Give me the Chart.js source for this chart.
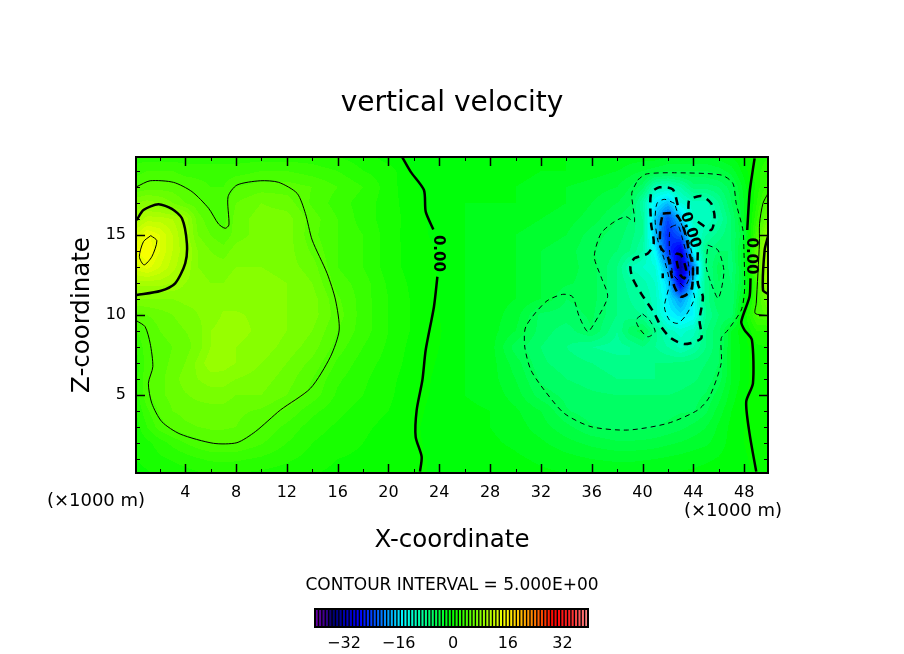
<!DOCTYPE html>
<html>
<head>
<meta charset="utf-8">
<title>vertical velocity</title>
<script src="https://cdn.jsdelivr.net/npm/chart.js@4"></script>
<style>
    html, body { margin: 0; padding: 0; background: #fff; }
    #page { position: relative; width: 904px; height: 654px; overflow: hidden; }
    canvas { position: absolute; left: 0; }
</style>
</head>
<body>
<div id="page">
    <canvas id="field" width="904" height="654" style="top:0"></canvas>
    <canvas id="colorbar" width="904" height="54" style="top:600px"></canvas>
</div>
<script>
// Tick labels
const xTicks = [4, 8, 12, 16, 20, 24, 28, 32, 36, 40, 44, 48];
const zTicks = [5, 10, 15];
const colorbarTicks = [-32, -16, 0, 16, 32];

// Grid of the field (x and z in units of 1000 m)
const xGrid = [0.125, 1, 2, 3, 4, 5, 6, 7, 8,
    10, 12, 14, 16, 18, 20, 22, 24,
    26, 28, 30, 32, 34, 36, 38,
    39, 40, 41, 42, 43, 44, 45, 46, 47, 48, 49, 49.875];
const zGrid = [19.875, 19, 18, 17, 16, 15, 14, 13, 12, 11, 10, 9, 8, 7, 6, 5, 4, 3, 2, 1, 0.125];

// Vertical velocity, one row per zGrid entry
const wField = [
    [2.5, 2.5, 2.5, 2.5, 2.5, 2.5, 2.5, 2.5, 2.5, 2.5, 2.5, 2.5, 2, 1.5, .5, -.3, -.4, -.5, -.5, -.5, -.5, -1, -1, -1, -1.5, -1.5, -1.5, -2, -2, -2, -2, -1.5, -1, 0, 1, 2],
    [3.5, 4, 4, 4, 3.5, 3.5, 3.5, 3.5, 3.5, 4, 4, 3.5, 3, 2, 1.5, -.1, -.3, -.5, -.5, -.5, -1, -1, -1.5, -2, -2.5, -3, -3.5, -4, -4, -4, -4, -3.5, -2.5, -.5, 1.5, 3],
    [5, 5.5, 5.5, 5.5, 5, 4.5, 4, 4, 5, 5.5, 5.5, 5, 4, 3, 1.5, .1, -.5, -1, -1, -1, -1.5, -2, -2.5, -3, -4, -5.5, -10, -10.5, -9, -6.5, -6.5, -6, -4.5, -1.5, 1.5, 3.5],
    [8, 8.5, 8, 7, 6, 5.3, 4.5, 4.5, 6, 7, 6.5, 4.8, 3.5, 2.5, 1.5, .3, -.5, -1, -1, -1, -1.5, -2, -3, -4, -4.8, -9, -14.5, -17, -12, -10.5, -10.5, -8, -5, -2, 2, 5.5],
    [10, 11.5, 11.5, 11, 9.8, 6.5, 5.3, 4.5, 6.5, 7.5, 7.5, 5.5, 4, 2.5, 1.5, .5, -.5, -1, -1.5, -1.5, -2, -2.5, -3.5, -5, -6, -8, -17, -23, -17, -10.5, -11, -9, -6, -2, 3, 7],
    [13, 15.2, 14, 12, 9.8, 7, 6, 5.2, 6.5, 7.5, 7.5, 5.3, 4, 3, 1.5, .4, -.3, -1, -1.5, -2, -2.5, -3, -4.5, -5.5, -6.5, -8, -17, -25, -22, -12, -9, -7.5, -6, -3, 4.5, 9.5],
    [15, 16, 14, 12, 10.3, 8, 7, 6.5, 7.5, 8, 7.5, 5.8, 4, 3, 1.5, .5, -.1, -1, -1.5, -2, -3, -3.5, -4.8, -6, -7, -9, -14, -24, -29, -14, -7, -6, -6, -2, 6, 11],
    [13.5, 14.5, 13, 11.5, 9.8, 8, 7.5, 7.5, 8, 8, 7.5, 6.5, 4, 3, 1.5, .5, -.1, -1, -1.5, -2, -3, -3.5, -4.5, -7, -10, -11, -12, -19, -32, -20, -7.5, -4.5, -6.5, -2, 6, 11],
    [10.5, 10.5, 10.5, 10, 9, 8.5, 8, 8, 8.5, 8.5, 8, 7, 4.5, 3.5, 1.8, .7, 0, -1, -1.5, -2, -3, -3.8, -4.5, -7, -8.5, -9.5, -11, -16, -29, -16, -7.5, -5, -6, -2.5, 4, 11],
    [8, 8, 8, 8, 8.3, 8.3, 8.5, 8.7, 8.7, 8.6, 8, 7.5, 5.2, 3.5, 2, .8, 0, -1, -1.5, -2, -3, -5, -4.5, -7, -8, -9, -10.5, -15, -19, -14, -7.5, -5, -6, -1, 3.5, 7.5],
    [5.5, 6, 6.5, 7, 7.5, 8, 8.5, 9.1, 9.1, 8.8, 8, 7.5, 5.5, 3.5, 2, .8, 0, -1, -1.5, -2.5, -5.3, -5.5, -4.8, -7, -7.5, -8, -10.5, -14, -15.5, -14, -8, -6, -5.5, .3, 4.5, 5],
    [4, 5, 6, 6.5, 7, 7.5, 9, 9.4, 9.3, 8.8, 8, 7, 5, 3.5, 2, .8, .1, -1, -1.5, -3, -5.5, -6.5, -5, -8, -5.5, -4.5, -7.5, -10.5, -11.5, -10.5, -7, -5.2, -2, -.1, 2, 2],
    [3, 4.7, 5.5, 6, 6.5, 7.5, 9, 9.3, 9, 8.6, 7.6, 6.5, 4.5, 3, 1.8, .6, 0, -1, -1.5, -4.5, -6, -7, -8, -8.5, -8, -7, -8, -9, -10.3, -9, -7, -5.2, -2, -.5, .8, 1],
    [2.5, 4.5, 5.6, 6.2, 7, 8.3, 9.7, 9.5, 9, 8, 7, 5.7, 3.8, 2.5, 1.6, .5, -.1, -1, -1.5, -3.5, -5.8, -6.5, -7, -7.5, -8, -7.5, -7, -7, -6.8, -6.5, -6, -5, -2, -.5, .8, 1],
    [2.5, 4.9, 5.7, 6.5, 7.5, 8, 8.5, 8.5, 8, 7.5, 6.5, 5, 3.2, 2.2, 1.3, .4, -.2, -1, -1.5, -3, -5.2, -6, -6.5, -7, -7, -7, -7, -6.8, -6.5, -6.2, -5.6, -4.5, -2, -.5, .8, 1],
    [2.5, 4.8, 5.8, 6.3, 6.9, 7.3, 7.5, 7.5, 7, 7, 6, 4.6, 2.8, 2, 1.2, .3, -.2, -1, -1.3, -2.5, -4.5, -5.3, -5.8, -6, -6, -6, -6, -6, -5.8, -5.4, -4.9, -3.5, -1.5, -.2, .8, 1],
    [2, 3.8, 5.2, 6, 6.3, 6.5, 6.6, 6.6, 6.3, 5.8, 4.8, 3.3, 2.3, 1.5, 1, .2, -.3, -.8, -1, -1.8, -3, -4.9, -5.6, -5.7, -5.7, -5.7, -5.6, -5.4, -5.1, -5.1, -4.2, -2.5, -1, 0, .6, .8],
    [1.5, 3, 4.5, 5.3, 5.8, 6, 6.2, 6.2, 6, 4.9, 3.7, 2.5, 1.8, 1.2, .7, .1, -.3, -.7, -1, -1.5, -2.5, -3.7, -4.9, -5.3, -5.3, -5.3, -5.1, -4.7, -4.3, -3.7, -3, -1.8, -.7, 0, .5, .7],
    [1.2, 1.7, 2.5, 3.3, 4, 4.6, 5, 5, 5, 4.1, 3, 2, 1.4, 1, .5, .1, -.2, -.5, -.8, -1.2, -1.8, -2.6, -3.3, -3.8, -3.8, -3.7, -3.5, -3.2, -2.9, -2.5, -2.2, -1.5, -.6, 0, .4, .5],
    [1, 1.3, 1.8, 2.1, 2.5, 2.9, 3.2, 3.3, 3.2, 2.8, 2.2, 1.6, 1, .8, .4, .1, -.1, -.4, -.5, -.8, -1.2, -1.6, -2, -2.2, -2.2, -2.1, -2, -1.8, -1.6, -1.4, -1.2, -.9, -.4, -.1, .2, .3],
    [.7, .9, 1.2, 1.4, 1.6, 1.9, 2, 2, 2, 1.8, 1.5, 1.1, .7, .5, .3, .1, -.1, -.2, -.3, -.5, -.8, -1, -1.2, -1.3, -1.3, -1.2, -1.1, -1, -.9, -.8, -.6, -.4, -.2, -.1, .1, .1]
];

// Contour lines as [x, z]
const zeroWestUpper = [[21.09, 19.85], [21.74, 18.96], [22.79, 17.81], [22.93, 16.46], [23.53, 15.35]];
const zeroWestLower = [[23.85, 12.39], [23.58, 10.52], [22.93, 7.81], [22.67, 5.94], [22.22, 4.06], [22.14, 2.39], [22.61, 1.15], [22.48, 0.21]];
const zeroEastUpper = [[48.82, 19.79], [48.56, 18.44], [48.42, 17.6], [48.24, 15.31]];
const zeroEastLower = [[48.5, 12.29], [48.42, 11.14], [47.77, 9.58], [48.03, 9.06], [48.61, 8.44], [48.69, 5.73], [48.16, 4.58], [48.42, 2.6], [48.95, 0.21]];
const plus5West = [[0.19, 18.02], [1.24, 18.39], [3.08, 18.29], [4.53, 17.71], [5.84, 16.67], [6.62, 15.69], [7.15, 15.42], [7.44, 15.63], [7.37, 17.39], [8.07, 18.12], [9.91, 18.39], [11.36, 18.29], [12.81, 17.6], [13.46, 16.35], [13.99, 14.69], [15.17, 12.6], [15.83, 10.94], [16.12, 9.06], [15.43, 7.39], [13.86, 5.42], [11.49, 4.06], [9.52, 2.71], [8.07, 2.02], [6.23, 1.98], [3.6, 2.56], [2.16, 3.33], [1.37, 4.48], [1.1, 5.73], [1.45, 6.77], [1.24, 8.23], [0.84, 9.27], [0.19, 9.63]];
const plus10West = [[0.19, 15.94], [0.71, 16.56], [1.89, 16.92], [2.95, 16.63], [3.74, 16.04], [4.13, 14.48], [4, 13.23], [3.21, 11.98], [2.03, 11.5], [0.19, 11.25]];
const plus15West = [[1.29, 14.96], [1.77, 14.64], [1.37, 13.64], [0.76, 13.13], [0.39, 13.64], [0.71, 14.58], [1.29, 14.96]];
const plus5East = [[49.87, 17.6], [49.48, 16.98], [49.21, 15.73], [49.2, 14.5], [48.95, 10.73], [48.87, 10.1], [49.87, 9.96]];
const plus10East = [[49.87, 14.9], [49.61, 14.06], [49.48, 11.56], [49.87, 11.31]];
const minus5Outer = [[39.62, 18.44], [40.28, 18.81], [42.51, 18.89], [46.19, 18.75], [47.11, 18.23], [47.37, 16.98], [47.9, 15.31], [47.98, 14.06], [48.03, 11.56], [47.77, 10.31], [46.72, 9.06], [46.19, 8.54], [46.19, 6.98], [45.27, 4.89], [44.35, 4.06], [41.99, 3.23], [38.83, 2.81], [35.94, 3.02], [33.84, 3.85], [32.26, 5.31], [31.21, 6.56], [30.73, 8], [30.81, 9.27], [32.39, 10.83], [33.7, 11.29], [34.49, 11.14], [35.02, 9.89], [35.68, 8.96], [36.2, 9.48], [37.25, 11.14], [36.73, 12.39], [36.2, 13.64], [36.73, 15.1], [37.78, 15.83], [38.7, 16.14], [39.36, 15.83], [39.15, 17.6], [39.62, 18.44]];
const minus5LoopSouth = [[40.01, 10.06], [40.54, 9.69], [40.99, 8.96], [40.41, 8.64], [39.75, 9.16], [39.49, 9.69], [40.01, 10.06]];
const minus5LoopEast = [[45.14, 14.37], [45.93, 14.06], [46.4, 12.81], [46.19, 11.56], [45.93, 11.04], [45.4, 11.98], [45.01, 13.02], [45.14, 14.37]];
const minus10Main = [[42.77, 16.87], [42.38, 17.85], [41.33, 17.98], [40.67, 17.6], [40.67, 15.73], [40.88, 14.48], [40.41, 13.85], [39.36, 13.54], [39.04, 13.02], [39.22, 12.29], [39.88, 11.35], [40.93, 10.1], [41.46, 9.27], [42.25, 8.54], [43.3, 8.18], [44.61, 8.54], [44.48, 9.68], [44.75, 11.14], [44.35, 11.98], [44.35, 14.27]];
const minus10Hook = [[44.35, 15.83], [45.4, 15.31], [45.67, 16.14], [45.4, 16.98], [44.61, 17.44], [43.69, 17.19], [43.6, 16.6]];
const minus15 = [[42.51, 16.98], [41.72, 17.23], [41.14, 16.98], [40.99, 15.93], [41.2, 14.68], [41.72, 13.44], [42.12, 12], [41.72, 10.52], [42.12, 9.68], [42.77, 9.48], [43.43, 10], [44.09, 11.04], [43.96, 11.56], [43.96, 13.44], [43.69, 14.48], [43.04, 15.73], [42.51, 16.98]];
const minus20 = [[41.59, 16.35], [42.51, 16.35], [43.04, 15.83], [43.43, 14.89], [43.69, 13.85], [43.96, 13.02], [43.83, 11.56], [43.04, 11.14], [42.51, 11.77], [42.25, 12.6], [41.99, 13.64], [41.41, 14.27], [41.41, 15.52], [41.59, 16.35]];
const minus20Stub = [[41.59, 12.6], [41.59, 12.3]];
const minus25 = [[42.25, 15.52], [42.77, 15.62], [43.17, 14.68], [43.56, 13.44], [43.69, 12.39], [43.3, 11.77], [42.77, 12.19], [42.38, 12.6], [42.12, 14.06], [42.12, 15.1], [42.25, 15.52]];
const minus30 = [[42.64, 13.85], [43.04, 13.75], [43.43, 12.81], [43.3, 12.29], [42.98, 12.5], [42.72, 13.23], [42.64, 13.85]];

// Contour labels as [x, z, rotation in degrees]
const contourLabels = [[23.87, 13.85, 90], [48.55, 13.69, 90], [43.75, 15.3, 72]];

// Colour bar levels
const colorbarLevels = [-40, -39, -38, -37, -36, -35, -34, -33, -32, -31, -30, -29, -28, -27, -26, -25, -24, -23, -22, -21,
    -20, -19, -18, -17, -16, -15, -14, -13, -12, -11, -10, -9, -8, -7, -6, -5, -4, -3, -2, -1,
    0, 1, 2, 3, 4, 5, 6, 7, 8, 9, 10, 11, 12, 13, 14, 15, 16, 17, 18, 19,
    20, 21, 22, 23, 24, 25, 26, 27, 28, 29, 30, 31, 32, 33, 34, 35, 36, 37, 38, 39];

// Colour stops [level, r, g, b]
const colorStops = [[-40, 110, 0, 170], [-37, 60, 0, 140], [-35, 0, 0, 110], [-27, 0, 0, 255], [-20, 0, 128, 255], [-14, 0, 255, 255],
    [0, 0, 255, 0], [16, 255, 255, 0], [24, 255, 128, 0], [30, 255, 0, 0], [35, 255, 40, 40], [40, 255, 140, 140]];

const TEXT_FONT = '"DejaVu Sans"';

function rgbForLevel(level) {
    let i = 0;
    while (i < colorStops.length - 2 && level > colorStops[i + 1][0]) i++;
    const a = colorStops[i];
    const b = colorStops[i + 1];
    const t = Math.min(1, Math.max(0, (level - a[0]) / (b[0] - a[0])));
    return [0, 1, 2].map(k => Math.round(a[k + 1] + (b[k + 1] - a[k + 1]) * t));
}

function sampleField(x, z) {
    let i = 0;
    while (i < xGrid.length - 2 && x > xGrid[i + 1]) i++;
    let j = 0;
    while (j < zGrid.length - 2 && z < zGrid[j + 1]) j++;
    const tx = (x - xGrid[i]) / (xGrid[i + 1] - xGrid[i]);
    const tz = (z - zGrid[j]) / (zGrid[j + 1] - zGrid[j]);
    const top = wField[j][i] * (1 - tx) + wField[j][i + 1] * tx;
    const bottom = wField[j + 1][i] * (1 - tx) + wField[j + 1][i + 1] * tx;
    return top * (1 - tz) + bottom * tz;
}

// Shaded field, drawn in bands of one unit through the chart's scales
const shadedField = {
    id: 'shadedField',
    beforeDatasetsDraw(chart) {
        const { ctx, chartArea, scales } = chart;
        const left = Math.round(chartArea.left);
        const top = Math.round(chartArea.top);
        const w = Math.round(chartArea.right) - left;
        const h = Math.round(chartArea.bottom) - top;
        const image = ctx.createImageData(w, h);
        for (let py = 0; py < h; py++) {
            const z = scales.y.getValueForPixel(top + py + 0.5);
            for (let px = 0; px < w; px++) {
                const x = scales.x.getValueForPixel(left + px + 0.5);
                const rgb = rgbForLevel(Math.floor(sampleField(x, z)) + 0.5);
                const o = (py * w + px) * 4;
                image.data[o] = rgb[0];
                image.data[o + 1] = rgb[1];
                image.data[o + 2] = rgb[2];
                image.data[o + 3] = 255;
            }
        }
        ctx.putImageData(image, left, top);
    }
};

// Frame, inward ticks and the free-standing texts
const plotFurniture = {
    id: 'plotFurniture',
    afterDatasetsDraw(chart) {
        const { ctx, chartArea, scales } = chart;
        const { left, right, top, bottom } = chartArea;
        ctx.save();
        ctx.strokeStyle = '#000';
        ctx.lineWidth = 1;
        for (let v = 2; v < 50; v += 2) {
            const major = xTicks.includes(v);
            const len = major ? 9 : 4;
            const p = Math.round(scales.x.getPixelForValue(v)) + 0.5;
            ctx.lineWidth = major ? 1.5 : 1;
            ctx.beginPath();
            ctx.moveTo(p, bottom); ctx.lineTo(p, bottom - len);
            ctx.moveTo(p, top); ctx.lineTo(p, top + len);
            ctx.stroke();
        }
        for (let v = 1; v < 20; v++) {
            const major = zTicks.includes(v);
            const len = major ? 9 : 4;
            const p = Math.round(scales.y.getPixelForValue(v)) + 0.5;
            ctx.lineWidth = major ? 1.5 : 1;
            ctx.beginPath();
            ctx.moveTo(left, p); ctx.lineTo(left + len, p);
            ctx.moveTo(right, p); ctx.lineTo(right - len, p);
            ctx.stroke();
        }
        ctx.lineWidth = 2;
        ctx.strokeRect(left, top, right - left, bottom - top);

        ctx.fillStyle = '#000';
        ctx.textAlign = 'center';
        ctx.textBaseline = 'middle';
        contourLabels.forEach(label => {
            ctx.save();
            ctx.translate(scales.x.getPixelForValue(label[0]), scales.y.getPixelForValue(label[1]));
            ctx.rotate(label[2] * Math.PI / 180);
            ctx.font = 'bold 15px ' + TEXT_FONT;
            ctx.fillText('0.00', 0, 0);
            ctx.restore();
        });

        ctx.font = '28px ' + TEXT_FONT;
        ctx.fillText('vertical velocity', 452, 104);
        ctx.font = '18px ' + TEXT_FONT;
        ctx.fillText('(×1000 m)', 96, 501);
        ctx.fillText('(×1000 m)', 733, 511);
        ctx.font = '17px ' + TEXT_FONT;
        ctx.fillText('CONTOUR INTERVAL = 5.000E+00', 452, 586);
        ctx.restore();
    }
};

function contourDataset(points, width, dash) {
    return {
        data: points.map(p => ({ x: p[0], y: p[1] })),
        showLine: true,
        borderColor: '#000',
        borderWidth: width,
        borderDash: dash,
        pointRadius: 0,
        tension: 0.25
    };
}

const THICK_DASH = [8, 6];
const THIN_DASH = [5, 4];

new Chart(document.getElementById('field'), {
    type: 'scatter',
    data: {
        datasets: [
            contourDataset(zeroWestUpper, 2.5, []),
            contourDataset(zeroWestLower, 2.5, []),
            contourDataset(zeroEastUpper, 2.5, []),
            contourDataset(zeroEastLower, 2.5, []),
            contourDataset(plus5West, 1, []),
            contourDataset(plus10West, 2.5, []),
            contourDataset(plus15West, 1, []),
            contourDataset(plus5East, 1, []),
            contourDataset(plus10East, 2.5, []),
            contourDataset(minus5Outer, 1, THIN_DASH),
            contourDataset(minus5LoopSouth, 1, THIN_DASH),
            contourDataset(minus5LoopEast, 1, THIN_DASH),
            contourDataset(minus10Main, 2.5, THICK_DASH),
            contourDataset(minus10Hook, 2.5, THICK_DASH),
            contourDataset(minus15, 1, THIN_DASH),
            contourDataset(minus20, 2.5, THICK_DASH),
            contourDataset(minus20Stub, 2.5, []),
            contourDataset(minus25, 1, THIN_DASH),
            contourDataset(minus30, 2.5, THICK_DASH)
        ]
    },
    options: {
        responsive: false,
        animation: false,
        devicePixelRatio: 1,
        layout: { padding: { top: 157, left: 68, right: 136, bottom: 99 } },
        plugins: {
            legend: { display: false },
            tooltip: { enabled: false },
            title: { display: false }
        },
        scales: {
            x: {
                type: 'linear',
                min: 0.125,
                max: 49.875,
                afterBuildTicks(axis) { axis.ticks = xTicks.map(v => ({ value: v })); },
                afterFit(axis) { axis.height = 82; },
                grid: { display: false, drawTicks: false },
                border: { display: false },
                ticks: { color: '#000', padding: 10, maxRotation: 0, autoSkip: false, font: { family: TEXT_FONT, size: 16 } },
                title: { display: true, text: 'X-coordinate', color: '#000', font: { family: TEXT_FONT, size: 24.5 }, padding: 0 }
            },
            y: {
                type: 'linear',
                min: 0.125,
                max: 19.875,
                afterBuildTicks(axis) { axis.ticks = zTicks.map(v => ({ value: v })); },
                afterFit(axis) { axis.width = 68; },
                grid: { display: false, drawTicks: false },
                border: { display: false },
                ticks: { color: '#000', padding: 10, font: { family: TEXT_FONT, size: 16 } },
                title: { display: true, text: 'Z-coordinate', color: '#000', font: { family: TEXT_FONT, size: 24.5 }, padding: 0 }
            }
        }
    },
    plugins: [shadedField, plotFurniture]
});

// Black backing and frame of the colour bar
const colorbarFrame = {
    id: 'colorbarFrame',
    beforeDatasetsDraw(chart) {
        const { ctx, chartArea } = chart;
        ctx.fillStyle = '#000';
        ctx.fillRect(chartArea.left, chartArea.top, chartArea.right - chartArea.left, chartArea.bottom - chartArea.top);
    },
    afterDatasetsDraw(chart) {
        const { ctx, chartArea } = chart;
        ctx.strokeStyle = '#000';
        ctx.lineWidth = 2;
        ctx.strokeRect(chartArea.left, chartArea.top, chartArea.right - chartArea.left, chartArea.bottom - chartArea.top);
    }
};

new Chart(document.getElementById('colorbar'), {
    type: 'bar',
    data: {
        labels: colorbarLevels,
        datasets: [{
            data: colorbarLevels.map(() => 1),
            backgroundColor: colorbarLevels.map(level => {
                const rgb = rgbForLevel(level + 0.5);
                return `rgb(${rgb[0]}, ${rgb[1]}, ${rgb[2]})`;
            }),
            barPercentage: 0.6,
            categoryPercentage: 1
        }]
    },
    options: {
        responsive: false,
        animation: false,
        devicePixelRatio: 1,
        layout: { padding: { top: 9, left: 315, right: 316, bottom: 0 } },
        plugins: { legend: { display: false }, tooltip: { enabled: false } },
        scales: {
            x: {
                afterFit(axis) { axis.height = 27; },
                grid: { display: false, drawTicks: false },
                border: { display: false },
                ticks: {
                    color: '#000',
                    padding: 7,
                    autoSkip: false,
                    maxRotation: 0,
                    font: { family: TEXT_FONT, size: 16 },
                    callback(value) {
                        const level = colorbarLevels[value];
                        return colorbarTicks.includes(level) ? String(level).replace('-', '\u2212') : '';
                    }
                }
            },
            y: { display: false, min: 0, max: 1 }
        }
    },
    plugins: [colorbarFrame]
});
</script>
</body>
</html>
